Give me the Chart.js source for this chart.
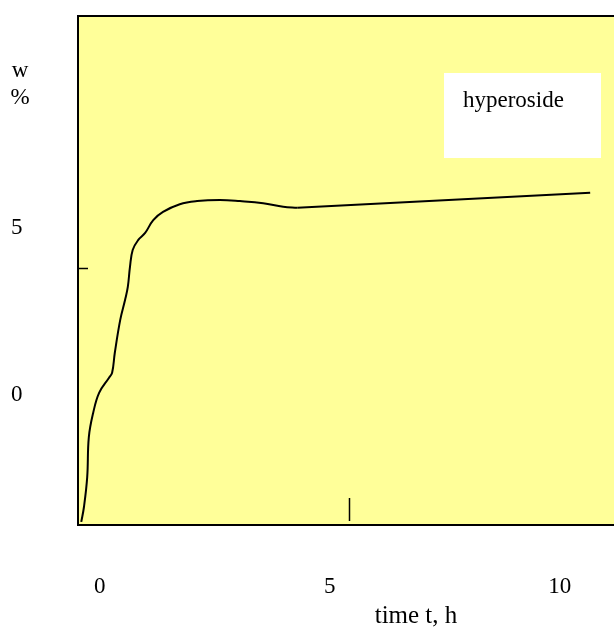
<!DOCTYPE html>
<html>
<head>
<meta charset="utf-8">
<script src="https://cdn.jsdelivr.net/npm/chart.js@4"></script>
<style>
  html, body { margin: 0; padding: 0; background: #fff; }
  #wrap { width: 614px; height: 627px; position: relative; }
</style>
</head>
<body>
<div id="wrap"><canvas id="lineChart"></canvas></div>
<script>
// curve (time in h, w in %)
var timeValues = [0.06, 0.11, 0.17, 0.20, 0.28, 0.39, 0.57, 0.63, 0.68, 0.78, 0.87, 0.92, 0.96, 1.01, 1.11, 1.24, 1.39, 1.57, 1.88, 2.20, 2.62, 2.99, 3.42, 3.79, 4.05, 9.46];
var wValues    = [0.06, 0.35, 0.93, 1.71, 2.18, 2.57, 2.86, 2.96, 3.35, 3.99, 4.38, 4.63, 5.02, 5.35, 5.54, 5.68, 5.93, 6.09, 6.24, 6.30, 6.32, 6.30, 6.26, 6.19, 6.17, 6.46];
// the last stretch is drawn as a straight segment
var straightFrom = 24;

var xTickLabels = [0, 5, 10];
var yTickLabels = [0, 5];
var xMarkTicks = [5];
var yMarkTicks = [5];
var seriesName = 'hyperoside';

var serif = '"Liberation Serif", "DejaVu Serif", serif';

var points = timeValues.map(function (t, i) { return { x: t, y: wValues[i] }; });

// yellow plot area, frame, small inner ticks and texts
var framePlugin = {
    id: 'frame',
    beforeDraw: function (chart) {
        var a = chart.chartArea, c = chart.ctx;
        c.save();
        c.fillStyle = '#FFFF99';
        c.fillRect(a.left, a.top, a.right - a.left + 2, a.bottom - a.top);
        c.restore();
    },
    afterDatasetsDraw: function (chart) {
        var a = chart.chartArea, c = chart.ctx;
        var xs = chart.scales.x, ys = chart.scales.y;
        c.save();
        c.strokeStyle = '#000';
        c.lineWidth = 2;
        c.beginPath();
        c.moveTo(a.right + 2, a.top);
        c.lineTo(a.left, a.top);
        c.lineTo(a.left, a.bottom);
        c.lineTo(a.right + 2, a.bottom);
        c.stroke();

        c.lineWidth = 1.5;
        xMarkTicks.forEach(function (v) {
            var px = Math.round(xs.getPixelForValue(v)) + 0.5;
            c.beginPath();
            c.moveTo(px, a.bottom - 4);
            c.lineTo(px, a.bottom - 27);
            c.stroke();
        });
        yMarkTicks.forEach(function (v) {
            var py = Math.round(ys.getPixelForValue(v)) + 0.5;
            c.beginPath();
            c.moveTo(a.left, py);
            c.lineTo(a.left + 10, py);
            c.stroke();
        });

        // legend box
        c.fillStyle = '#fff';
        c.fillRect(444, 73, 157, 85);
        c.fillStyle = '#000';
        c.font = '23px ' + serif;
        c.textAlign = 'left';
        c.textBaseline = 'alphabetic';
        c.fillText(seriesName, 463, 107);

        // axis titles
        c.textAlign = 'center';
        c.fillText('w', 20, 77);
        c.fillText('%', 20, 104);
        c.font = '25px ' + serif;
        c.fillText('time t, h', 416, 623);
        c.restore();
    }
};

var ctx = document.getElementById('lineChart').getContext('2d');
var myChart = new Chart(ctx, {
    type: 'line',
    data: {
        datasets: [{
            label: seriesName,
            data: points.slice(0, straightFrom + 1),
            xAxisID: 'x',
            yAxisID: 'y',
            borderColor: '#000',
            borderWidth: 2,
            pointRadius: 0,
            fill: false,
            tension: 0.4
        }, {
            label: seriesName,
            data: points.slice(straightFrom),
            xAxisID: 'x',
            yAxisID: 'y',
            borderColor: '#000',
            borderWidth: 2,
            pointRadius: 0,
            fill: false,
            tension: 0
        }]
    },
    options: {
        responsive: true,
        maintainAspectRatio: false,
        animation: false,
        layout: { padding: { top: 16, right: 0, left: 11, bottom: 0 } },
        plugins: {
            legend: { display: false },
            tooltip: { enabled: false }
        },
        scales: {
            x: { type: 'linear', min: 0, max: 9.9, display: false },
            y: { type: 'linear', min: 0, max: 9.9, display: false },
            xl: {
                type: 'linear',
                position: 'bottom',
                min: -0.471,
                max: 11.181,
                afterBuildTicks: function (s) { s.ticks = xTickLabels.map(function (v) { return { value: v }; }); },
                afterFit: function (s) { s.height = 102; s.paddingLeft = 0; s.paddingRight = 0; },
                grid: { display: false, drawTicks: false },
                border: { display: false },
                ticks: { padding: 48, color: '#000', font: { family: serif, size: 23 }, maxRotation: 0, autoSkip: false }
            },
            yl: {
                type: 'linear',
                position: 'left',
                min: -3.892,
                max: 11.347,
                afterBuildTicks: function (s) { s.ticks = yTickLabels.map(function (v) { return { value: v }; }); },
                afterFit: function (s) { s.width = 67; s.paddingTop = 0; s.paddingBottom = 0; },
                grid: { display: false, drawTicks: false },
                border: { display: false },
                ticks: { padding: 0, crossAlign: 'far', color: '#000', font: { family: serif, size: 23 }, autoSkip: false }
            }
        }
    },
    plugins: [framePlugin]
});
</script>
</body>
</html>
